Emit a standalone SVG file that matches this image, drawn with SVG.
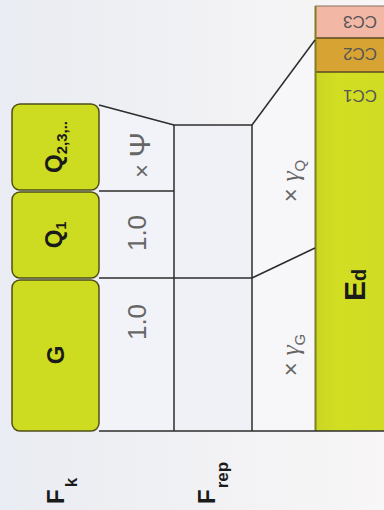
<svg xmlns="http://www.w3.org/2000/svg" width="384" height="510" viewBox="0 0 384 510">
  <defs>
    <linearGradient id="bg" x1="0" y1="0" x2="1" y2="0">
      <stop offset="0" stop-color="#e9ecf2"/>
      <stop offset="1" stop-color="#f8f6f6"/>
    </linearGradient>
    <linearGradient id="edg" x1="0" y1="0" x2="1" y2="0">
      <stop offset="0" stop-color="#c9d524"/>
      <stop offset="0.3" stop-color="#d2de22"/>
      <stop offset="1" stop-color="#d0dc24"/>
    </linearGradient>
  </defs>
  <style>
    .box { fill: #cddc20; stroke: #4e4e18; stroke-width: 1.5; }
    .cell { fill: #f2f3f8; stroke: none; }
    .ln { fill: none; stroke: #2c2c2c; stroke-width: 1.5; }
    .bold { font-family: "Liberation Sans", Arial, sans-serif; font-weight: bold; fill: #1a1a1a; }
    .thin { font-family: "Liberation Sans", Arial, sans-serif; font-weight: normal; fill: #666; }
    .gam { font-family: "Liberation Serif", "Times New Roman", serif; font-style: italic; }
    .cc { font-family: "Liberation Sans", Arial, sans-serif; font-size: 17px; fill: #555; }
  </style>
  <rect x="0" y="0" width="384" height="510" fill="url(#bg)"/>

  <!-- cell backgrounds -->
  <polygon class="cell" points="99,105 174,125 174,431 99,431"/>
  <rect class="cell" x="174" y="125" width="78" height="306" style="fill:#eff1f7"/>
  <polygon class="cell" points="252,125 315,40 315,431 252,431" style="fill:#f7f6f8"/>

  <g id="labels">
    <text class="bold" transform="translate(64,504) rotate(-90)" font-size="24">F<tspan font-size="17" dx="2" dy="13">k</tspan></text>
    <text class="bold" transform="translate(215,504) rotate(-90)" font-size="24">F<tspan font-size="17" dx="1" dy="13">rep</tspan></text>
  </g>

  <g id="node-G">
    <rect class="box" x="12" y="280" width="87" height="151" rx="8"/>
    <text class="bold" transform="translate(64,355) rotate(-90)" font-size="24" text-anchor="middle">G</text>
  </g>
  <g id="node-Q1">
    <rect class="box" x="12" y="192" width="87" height="86" rx="8"/>
    <text class="bold" transform="translate(62,235) rotate(-90)" font-size="24" text-anchor="middle">Q<tspan font-size="14" dy="4">1</tspan></text>
  </g>
  <g id="node-Q23">
    <rect class="box" x="12" y="104" width="87" height="86" rx="8"/>
    <text class="bold" transform="translate(62,147) rotate(-90)" font-size="24" text-anchor="middle">Q<tspan font-size="15" dy="5">2,3,..</tspan></text>
  </g>

  <g id="node-factors">
    <text class="thin" transform="translate(146,322) rotate(-90)" font-size="26" text-anchor="middle">1.0</text>
    <text class="thin" transform="translate(146,233) rotate(-90)" font-size="26" text-anchor="middle">1.0</text>
    <text class="thin" transform="translate(150,155) rotate(-90)" font-size="24" text-anchor="middle">× <tspan font-size="30">Ψ</tspan></text>
  </g>

  <g id="node-frep"/>

  <g id="node-gamma">
    <text class="thin" transform="translate(299,181) rotate(-90)" font-size="24" text-anchor="middle">× <tspan class="gam" font-size="26">γ</tspan><tspan font-size="15" dy="6">Q</tspan></text>
    <text class="thin" transform="translate(299,355) rotate(-90)" font-size="24" text-anchor="middle">× <tspan class="gam" font-size="26">γ</tspan><tspan font-size="15" dy="6">G</tspan></text>
  </g>

  <g id="node-Ed">
    <rect x="315" y="6" width="75" height="425" fill="url(#edg)"/>
    <rect x="315" y="6" width="75" height="32" fill="#f3b8a5"/>
    <rect x="315" y="38" width="75" height="34" fill="#d7a333"/>
    <line x1="315" y1="38" x2="390" y2="38" stroke="#5a4a20" stroke-width="1.5"/>
    <line x1="315" y1="72" x2="390" y2="72" stroke="#5a4a20" stroke-width="1.5"/>
    <line x1="315" y1="6" x2="390" y2="6" stroke="#8a7060" stroke-width="1"/>
    <line x1="315.5" y1="6" x2="315.5" y2="431" stroke="#7d7f22" stroke-width="2"/>
    <text class="bold" transform="translate(365,285) rotate(-90)" font-size="30" text-anchor="middle">E<tspan font-size="20" dy="1">d</tspan></text>
    <text class="cc" transform="translate(360,22) rotate(180)" text-anchor="middle" dy="0.35em">CC3</text>
    <text class="cc" transform="translate(360,54) rotate(180)" text-anchor="middle" dy="0.35em">CC2</text>
    <text class="cc" transform="translate(360,96) rotate(180)" text-anchor="middle" dy="0.35em">CC1</text>
  </g>

  <g id="connectors">
    <line class="ln" x1="99" y1="105" x2="174" y2="125"/>
    <line class="ln" x1="174" y1="125" x2="252" y2="125"/>
    <line class="ln" x1="252" y1="125" x2="315" y2="40"/>
    <line class="ln" x1="174" y1="125" x2="174" y2="431"/>
    <line class="ln" x1="252" y1="125" x2="252" y2="431"/>
    <line class="ln" x1="99" y1="191" x2="174" y2="191"/>
    <line class="ln" x1="99" y1="278" x2="252" y2="278"/>
    <line class="ln" x1="252" y1="278" x2="315" y2="248"/>
    <line class="ln" x1="99" y1="431" x2="384" y2="431"/>
  </g>
</svg>
